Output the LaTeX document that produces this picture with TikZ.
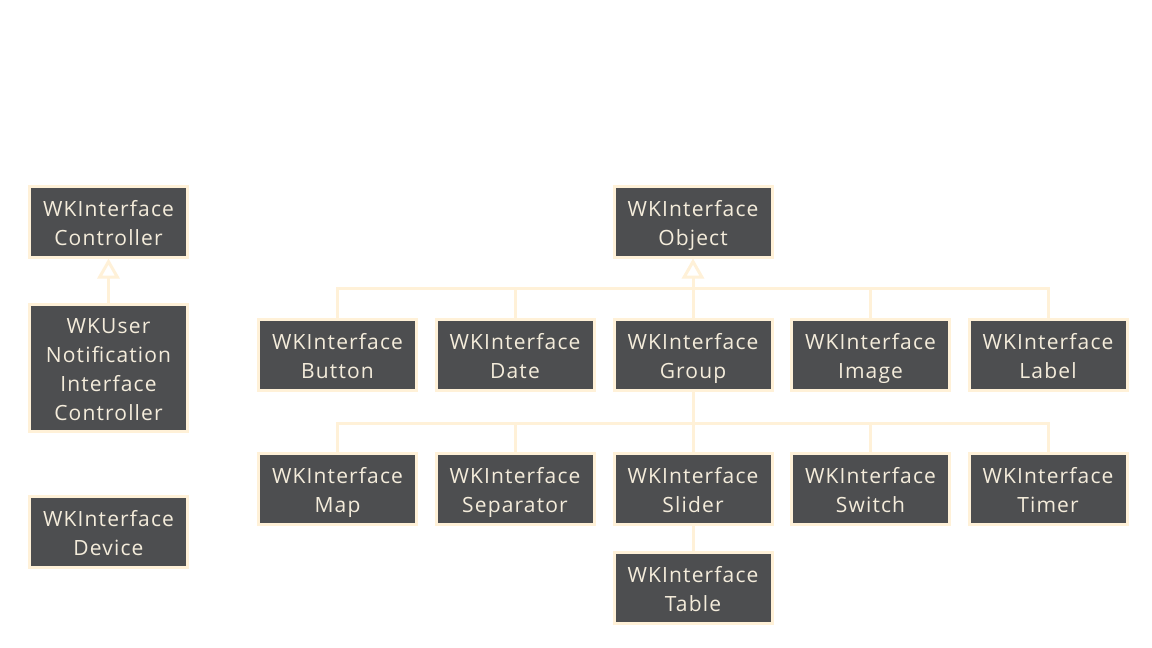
\documentclass[tikz,border=0pt]{standalone}
\usepackage{fontspec}
\setmainfont{Open Sans}[LetterSpace=5.5]
\usetikzlibrary{arrows.meta}
\definecolor{boxfill}{HTML}{4D4E50}
\definecolor{boxline}{HTML}{FFF1D8}
\definecolor{boxtext}{HTML}{F4ECDB}
\newcommand\mytopstrut{\rule{0pt}{24pt}}
\tikzset{
  cls/.style={draw=boxline, line width=3pt, fill=boxfill, text=boxtext,
    minimum width=158pt, minimum height=71pt, inner sep=0pt, align=center,
    font=\fontsize{21}{29}\selectfont,
    execute at end node={\rule[-6pt]{0pt}{0pt}}},
  link/.style={draw=boxline, line width=3pt},
  inherit/.style={link, -{Triangle[open, length=20pt, width=22pt, fill=white]}}
}
\begin{document}
\begin{tikzpicture}[x=1pt,y=-1pt]
\useasboundingbox[fill=white] (0,0) rectangle (1152,648);
% left column
\node[cls] (ctrl) at (108.5,221.5) {\mytopstrut WKInterface\\Controller};
\node[cls, minimum height=127pt] (notif) at (108.5,368) {\mytopstrut WKUser\\Notification\\Interface\\Controller};
\node[cls] (dev) at (108.5,531.5) {\mytopstrut WKInterface\\Device};
% tree
\node[cls] (obj) at (693,221.5) {\mytopstrut WKInterface\\Object};
\node[cls] (btn) at (337.5,355) {\mytopstrut WKInterface\\Button};
\node[cls] (date) at (515,355) {\mytopstrut WKInterface\\Date};
\node[cls] (grp) at (693,355) {\mytopstrut WKInterface\\Group};
\node[cls] (img) at (870.5,355) {\mytopstrut WKInterface\\Image};
\node[cls] (lbl) at (1048,355) {\mytopstrut WKInterface\\Label};
\node[cls] (map) at (337.5,489) {\mytopstrut WKInterface\\Map};
\node[cls] (sep) at (515,489) {\mytopstrut WKInterface\\Separator};
\node[cls] (sld) at (693,489) {\mytopstrut WKInterface\\Slider};
\node[cls] (swi) at (870.5,489) {\mytopstrut WKInterface\\Switch};
\node[cls] (tmr) at (1048,489) {\mytopstrut WKInterface\\Timer};
\node[cls] (tbl) at (693,588) {\mytopstrut WKInterface\\Table};
\coordinate (bar1) at (693,288);
\coordinate (bar2) at (693,423);
% connectors
\draw[inherit] (notif.north) -- (ctrl.south);
\draw[inherit] (grp.north) -- (obj.south);
\draw[link] (btn.north) -- (btn.north |- bar1) -- (lbl.north |- bar1) -- (lbl.north);
\draw[link] (date.north) -- (date.north |- bar1);
\draw[link] (img.north) -- (img.north |- bar1);
\draw[link] (grp.south) -- (bar2);
\draw[link] (map.north) -- (map.north |- bar2) -- (tmr.north |- bar2) -- (tmr.north);
\draw[link] (sep.north) -- (sep.north |- bar2);
\draw[link] (sld.north) -- (sld.north |- bar2);
\draw[link] (swi.north) -- (swi.north |- bar2);
\draw[link] (sld.south) -- (tbl.north);
\end{tikzpicture}
\end{document}
